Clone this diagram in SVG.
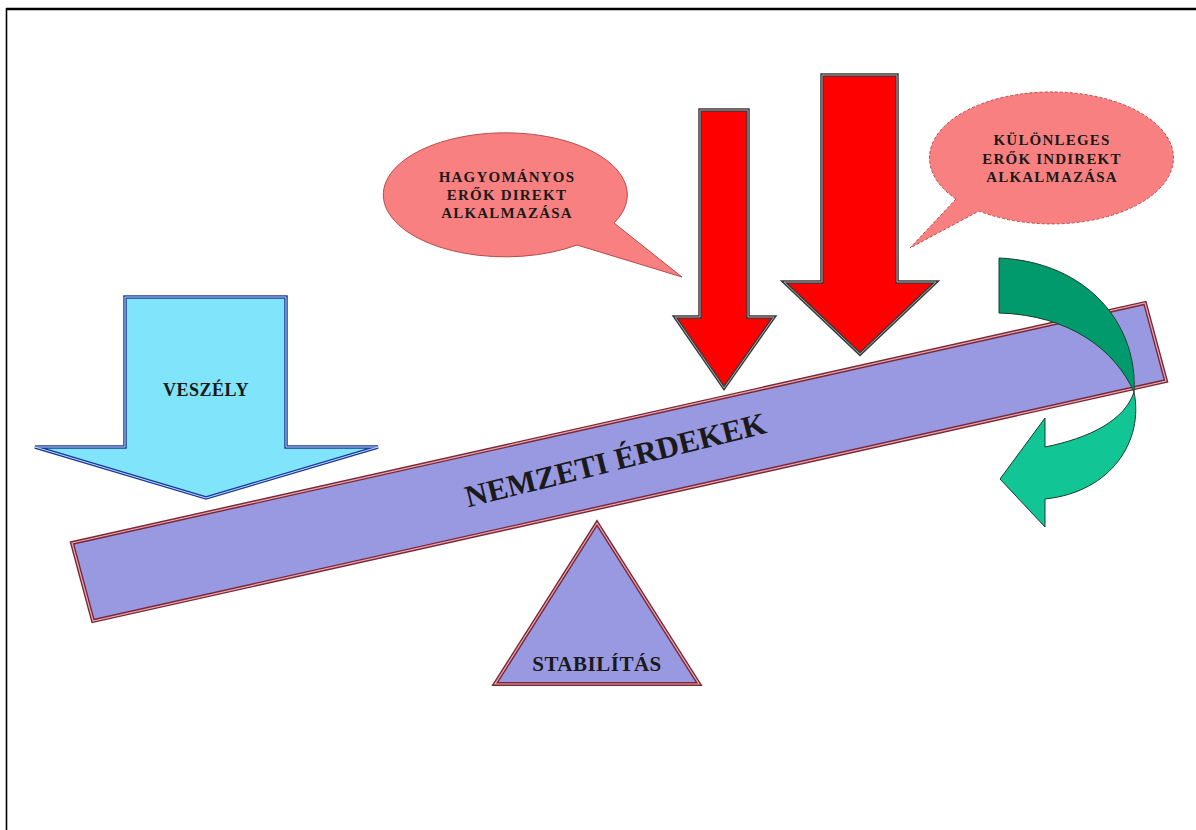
<svg xmlns="http://www.w3.org/2000/svg" width="1196" height="830" viewBox="0 0 1196 830">
<style>
.lbl{font-family:"Liberation Serif","Times New Roman",serif;font-weight:bold;fill:#1a1a1a;text-anchor:middle}
.bub{fill:#f88080;stroke:#b84a4a;stroke-width:1}
.redA{fill:#ff0000;stroke:#3a3a3a;stroke-width:3.5;stroke-linejoin:miter}
.redB{fill:none;stroke:#b0a0a0;stroke-width:1}
.lav{fill:#9999e2;stroke:#7a2838;stroke-width:4}
.lavB{fill:none;stroke:#e8a8b0;stroke-width:1.2}
</style>
<rect x="0" y="0" width="1196" height="830" fill="#ffffff"/>
<g id="frame">
<line x1="6" y1="9" x2="1196" y2="9" stroke="#000" stroke-width="2.5"/>
<line x1="6.5" y1="8" x2="6.5" y2="830" stroke="#000" stroke-width="1.6"/>
</g>
<g id="beam">
<polygon class="lav" points="72,543 1145,303 1166,381 93,621"/>
<polygon class="lavB" points="72,543 1145,303 1166,381 93,621"/>
<text class="lbl" font-size="31" transform="translate(618,470) rotate(-14)">NEMZETI ÉRDEKEK</text>
</g>
<g id="stabilitas">
<polygon class="lav" points="597,523 699,684 495,684"/>
<polygon class="lavB" points="597,523 699,684 495,684"/>
<text class="lbl" font-size="21" x="597" y="671" letter-spacing="0.5">STABILÍTÁS</text>
</g>
<g id="veszely">
<polygon points="125,297 286,297 286,447 378,447 206,498 35,447 125,447" fill="#80e4fa" stroke="#1c3a98" stroke-width="3.5"/>
<polygon points="125,297 286,297 286,447 378,447 206,498 35,447 125,447" fill="none" stroke="#b8d8f8" stroke-width="1"/>
<text class="lbl" font-size="18" x="206" y="396" letter-spacing="0.5">VESZÉLY</text>
</g>
<g id="red-arrow-1">
<polygon class="redA" points="700,110 748,110 748,317 774,317 724,388 675,317 700,317"/>
<polygon class="redB" points="700,110 748,110 748,317 774,317 724,388 675,317 700,317"/>
</g>
<g id="red-arrow-2">
<polygon class="redA" points="822,75 897,75 897,282 936,282 860,354 784,282 822,282"/>
<polygon class="redB" points="822,75 897,75 897,282 936,282 860,354 784,282 822,282"/>
</g>
<g id="callout-hagyomanyos">
<path class="bub" d="M577,245 A122,62 0 1 1 614,223 L682,277 Z"/>
<text class="lbl" font-size="15" letter-spacing="1.2" x="507" y="182">HAGYOMÁNYOS</text>
<text class="lbl" font-size="15" letter-spacing="1.2" x="507" y="200">ERŐK DIREKT</text>
<text class="lbl" font-size="15" letter-spacing="1.2" x="507" y="218">ALKALMAZÁSA</text>
</g>
<g id="callout-kulonleges">
<path class="bub" stroke-dasharray="3,2" d="M956,199 A122,66 0 1 1 979,211 L910,248 Z"/>
<text class="lbl" font-size="15" letter-spacing="1.2" x="1052" y="145">KÜLÖNLEGES</text>
<text class="lbl" font-size="15" letter-spacing="1.2" x="1052" y="164">ERŐK INDIREKT</text>
<text class="lbl" font-size="15" letter-spacing="1.2" x="1052" y="182">ALKALMAZÁSA</text>
</g>
<g id="green-arrow">
<path d="M999,258 C1088,262 1138,325 1134,392 C1115,350 1070,315 999,313 Z" fill="#009a6c" stroke="#1f3b2e" stroke-width="1"/>
<path d="M1134,392 C1144,440 1112,492 1045,499 L1045,527 L1000,479 L1045,418 L1045,447 C1090,438 1125,420 1134,392 Z" fill="#12c594" stroke="#1f3b2e" stroke-width="1"/>
</g>
</svg>
